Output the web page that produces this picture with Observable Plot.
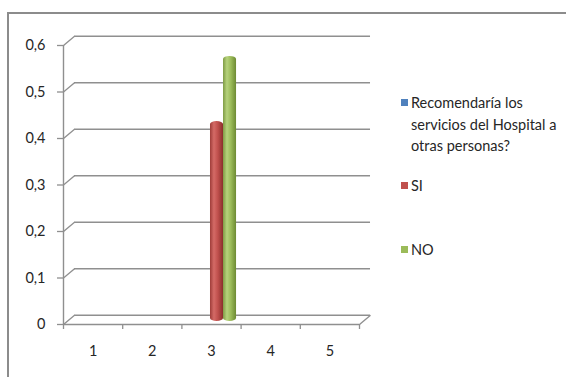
<!DOCTYPE html>
<html>
<head>
<meta charset="utf-8">
<script src="https://cdn.jsdelivr.net/npm/d3@7"></script>
<script src="https://cdn.jsdelivr.net/npm/@observablehq/plot@0.6"></script>
<style>
  html, body { margin: 0; padding: 0; background: #fff; }
  body { width: 566px; height: 377px; overflow: hidden; position: relative; font-family: Lato, "Open Sans", sans-serif; }
  #frame { position: absolute; left: 7px; top: 12px; width: 620px; height: 420px;
           border-left: 2px solid #8c8c8c; border-top: 2px solid #8c8c8c; box-sizing: border-box; }
  #chart { position: absolute; left: 0; top: 0; }
  #legend { position: absolute; left: 401px; top: 0; width: 162px; font-size: 14.5px; line-height: 21.5px; color: #262626; }
  .item { position: absolute; left: 0; display: flex; align-items: flex-start; width: 162px; }
  .sw { flex: none; width: 7px; height: 7px; margin-top: 7px; margin-right: 3px; }
</style>
</head>
<body>
<div id="frame"></div>
<div id="chart"></div>
<div id="legend"></div>
<script>
// ---- data ----
const categories = [1, 2, 3, 4, 5];
const seriesNames = ["Recomendaría los servicios del Hospital a otras personas?", "SI", "NO"];
const seriesColors = ["#4f81bd", "#c0504d", "#9bbb59"];
const recomendaria = [null, null, null, null, null];
const si = [null, null, 0.43, null, null];
const no = [null, null, 0.57, null, null];
const yTicks = [0, 0.1, 0.2, 0.3, 0.4, 0.5, 0.6];

// ---- build table ----
const seriesValues = [recomendaria, si, no];
const bars = [];
seriesValues.forEach((vals, s) => vals.forEach((v, i) => {
  if (v != null && v > 0) bars.push({cat: categories[i], s, value: v});
}));

const xMin = categories[0] - 0.5, xMax = categories[categories.length - 1] + 0.5;
const xEdges = d3.range(xMin, xMax + 0.001, 1);
const xd = 0.186;   // 3D depth (category units)
const yd = 0.02;    // 3D depth (value units)
const bw = 0.22;    // bar width (category units)
const gridColor = "#8f8f8f";
const fmt = d => d === 0 ? "0" : d3.format(".1f")(d).replace(".", ",");

const plot = Plot.plot({
  width: 566,
  height: 377,
  marginLeft: 63,
  marginRight: 207,
  marginTop: 45,
  marginBottom: 53,
  x: {domain: [xMin, xMax], label: null},
  y: {domain: [0, 0.6], label: null},
  style: {fontFamily: "Lato, 'Open Sans', sans-serif", fontSize: "14.5px", color: "#262626", background: "transparent", overflow: "visible"},
  marks: [
    Plot.ruleY(yTicks, {y: d => d + yd, x1: xMin + xd, x2: xMax + xd, stroke: gridColor, strokeWidth: 1.6}),
    Plot.link(yTicks, {x1: xMin, y1: d => d, x2: xMin + xd, y2: d => d + yd, stroke: gridColor, strokeWidth: 1.3}),
    Plot.link([0], {x1: xMax, y1: 0, x2: xMax + xd, y2: yd, stroke: gridColor, strokeWidth: 1.3}),
    Plot.ruleX([xMin], {y1: 0, y2: 0.6, stroke: gridColor, strokeWidth: 1.4}),
    Plot.ruleY([0], {x1: xMin, x2: xMax, stroke: gridColor, strokeWidth: 1.4}),
    Plot.axisY({ticks: yTicks, tickSize: 6, tickPadding: 12, tickFormat: fmt, label: null, stroke: gridColor, strokeWidth: 1.3, fill: "#262626"}),
    Plot.axisX({ticks: xEdges, tickSize: 5, tickFormat: () => "", label: null, stroke: gridColor, strokeWidth: 1.3}),
    Plot.axisX({ticks: categories, tickSize: 0, tickPadding: 21, tickFormat: d => String(d), label: null, fill: "#262626"}),
    Plot.rectY(bars, {
      x1: d => d.cat + xd / 2 + (d.s - 1.5) * bw,
      x2: d => d.cat + xd / 2 + (d.s - 0.5) * bw,
      y1: 0,
      y2: "value",
      fill: d => `url(#cyl${d.s})`,
      rx: 6.5, ry: 3, dy: -3
    })
  ]
});

// cylinder gradients
const shades = [
  ["#3f6b9e", "#7aa3d4", "#4f81bd", "#375f8e"],
  ["#9e3c39", "#d46a66", "#c0504d", "#8a2f2c"],
  ["#7e9b43", "#b6d27c", "#9bbb59", "#6d8a33"]
];
const defs = d3.select(plot).insert("defs", ":first-child");
shades.forEach((c, s) => {
  const g = defs.append("linearGradient").attr("id", `cyl${s}`).attr("x1", "0").attr("x2", "1").attr("y1", "0").attr("y2", "0");
  [[0, c[0]], [0.3, c[1]], [0.6, c[2]], [1, c[3]]].forEach(([o, col]) => g.append("stop").attr("offset", o).attr("stop-color", col));
});
document.getElementById("chart").appendChild(plot);

// legend
const legendTops = [92, 175, 239];
const legend = d3.select("#legend");
seriesNames.forEach((name, s) => {
  const item = legend.append("div").attr("class", "item").style("top", legendTops[s] + "px");
  item.append("div").attr("class", "sw").style("background", seriesColors[s]);
  item.append("div").text(name);
});
</script>
</body>
</html>
